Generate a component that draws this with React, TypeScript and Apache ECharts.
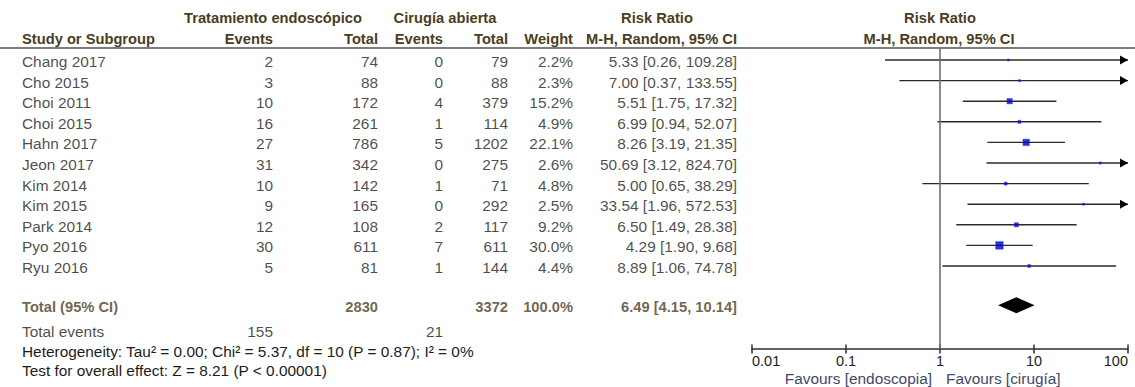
import React, { useEffect, useRef } from "react";
import * as echarts from "echarts";

// Study-level data
const studies = ["Chang 2017", "Cho 2015", "Choi 2011", "Choi 2015", "Hahn 2017", "Jeon 2017", "Kim 2014", "Kim 2015", "Park 2014", "Pyo 2016", "Ryu 2016"];
const endoEvents = [2, 3, 10, 16, 27, 31, 10, 9, 12, 30, 5];
const endoTotal = [74, 88, 172, 261, 786, 342, 142, 165, 108, 611, 81];
const openEvents = [0, 0, 4, 1, 5, 0, 1, 0, 2, 7, 1];
const openTotal = [79, 88, 379, 114, 1202, 275, 71, 292, 117, 611, 144];
const weights = [2.2, 2.3, 15.2, 4.9, 22.1, 2.6, 4.8, 2.5, 9.2, 30.0, 4.4];
const riskRatio = [5.33, 7.0, 5.51, 6.99, 8.26, 50.69, 5.0, 33.54, 6.5, 4.29, 8.89];
const ciLow = [0.26, 0.37, 1.75, 0.94, 3.19, 3.12, 0.65, 1.96, 1.49, 1.9, 1.06];
const ciHigh = [109.28, 133.55, 17.32, 52.07, 21.35, 824.7, 38.29, 572.53, 28.38, 9.68, 74.78];

// Pooled result
const pooledRR = 6.49;
const pooledLow = 4.15;
const pooledHigh = 10.14;
const endoTotalAll = 2830;
const openTotalAll = 3372;
const endoEventsAll = 155;
const openEventsAll = 21;
const totalWeight = 100.0;

// Axis ticks of the forest plot
const axisTicks = [0.01, 0.1, 1, 10, 100];

// Layout
const W = 1135;
const H = 387;
const ROW0 = 60;
const ROW = 20.6;
const TOTAL_ROW = 11.9;
const EVENTS_ROW = 13.1;
const PLOT_LEFT = 752;
const PLOT_RIGHT = 1128;
const PLOT_TOP = 48;
const PLOT_BOTTOM = 349;

const FONT = '"Liberation Sans", Arial, sans-serif';
const FS = 15.4;
const FS_BOLD = 14.7;
const TXT = "#1c1c1c";
const HEAD = "#4a3d22";

const fmt2 = (v: number) => v.toFixed(2);
const ciText = (r: number, lo: number, hi: number) => `${fmt2(r)} [${fmt2(lo)}, ${fmt2(hi)}]`;

function textColumn(x: number, rows: number[], texts: string[], align: "left" | "right", bold = false) {
  return {
    type: "scatter",
    xAxisIndex: 2,
    yAxisIndex: 1,
    silent: true,
    symbolSize: 0,
    z: 5,
    data: rows.map((r) => [x, r]),
    label: {
      show: true,
      position: align === "right" ? "left" : "right",
      distance: 0,
      offset: [0, 1.5],
      formatter: (p: any) => texts[p.dataIndex],
      fontFamily: FONT,
      fontSize: bold ? FS_BOLD : FS,
      fontWeight: bold ? "bold" : "normal",
      color: bold ? HEAD : TXT,
    },
  };
}

export default function App() {
  const ref = useRef<HTMLDivElement>(null);

  useEffect(() => {
    document.body.style.margin = "0";
    const chart = echarts.init(ref.current!, null, { renderer: "svg" });
    const idx = studies.map((_, i) => i);
    const axMin = axisTicks[0];
    const axMax = axisTicks[axisTicks.length - 1];

    const headText = (text: string, x: number, y: number, align: string, bold = true) => ({
      type: "text",
      x,
      y,
      silent: true,
      style: {
        text,
        align,
        verticalAlign: "middle",
        font: `${bold ? "bold " : ""}${bold ? FS_BOLD : FS}px ${FONT}`,
        fill: bold ? HEAD : TXT,
      },
    });

    const option: any = {
      animation: false,
      backgroundColor: "#fff",
      grid: [
        { left: PLOT_LEFT, top: PLOT_TOP, width: PLOT_RIGHT - PLOT_LEFT, height: PLOT_BOTTOM - PLOT_TOP },
        { left: 0, top: 0, width: W, height: H },
      ],
      xAxis: [
        {
          type: "log",
          logBase: 10,
          min: axMin,
          max: axMax,
          gridIndex: 0,
          position: "bottom",
          axisLine: { show: true, onZero: false, lineStyle: { color: "#2e2e2e", width: 1.5 } },
          axisTick: { show: true, length: 4.5, lineStyle: { color: "#2e2e2e", width: 1.5 } },
          minorTick: { show: false },
          splitLine: { show: false },
          axisLabel: {
            show: true,
            margin: 4,
            fontFamily: FONT,
            fontSize: 14.5,
            color: TXT,
            alignMinLabel: "left",
            alignMaxLabel: "right",
            formatter: (v: number) => String(v),
          },
        },
        {
          type: "log",
          logBase: 10,
          min: axMin,
          max: axMax,
          gridIndex: 0,
          position: "bottom",
          axisLine: { show: false, onZero: false },
          axisTick: { show: true, inside: true, length: 4.5, lineStyle: { color: "#2e2e2e", width: 1.5 } },
          splitLine: { show: false },
          axisLabel: { show: false },
        },
        { type: "value", gridIndex: 1, min: 0, max: W, show: false },
      ],
      yAxis: [
        {
          type: "value",
          gridIndex: 0,
          inverse: true,
          min: (PLOT_TOP - ROW0) / ROW,
          max: (PLOT_BOTTOM - ROW0) / ROW,
          show: false,
        },
        {
          type: "value",
          gridIndex: 1,
          inverse: true,
          min: -ROW0 / ROW,
          max: (H - ROW0) / ROW,
          show: false,
        },
      ],
      graphic: [
        headText("Tratamiento endoscópico", 273, 18, "center"),
        headText("Cirugía abierta", 445, 18, "center"),
        headText("Risk Ratio", 657, 18, "center"),
        headText("Risk Ratio", 940, 18, "center"),
        headText("Study or Subgroup", 22, 39, "left"),
        headText("Events", 273, 39, "right"),
        headText("Total", 378, 39, "right"),
        headText("Events", 443, 39, "right"),
        headText("Total", 508, 39, "right"),
        headText("Weight", 573, 39, "right"),
        headText("M-H, Random, 95% CI", 737, 39, "right"),
        headText("M-H, Random, 95% CI", 939, 39, "center"),
        {
          type: "line",
          silent: true,
          shape: { x1: 0, y1: 48, x2: W, y2: 48 },
          style: { stroke: "#505050", lineWidth: 1.5 },
        },
        headText("Heterogeneity: Tau\u00b2 = 0.00; Chi\u00b2 = 5.37, df = 10 (P = 0.87); I\u00b2 = 0%", 22, 351, "left", false),
        headText("Test for overall effect: Z = 8.21 (P < 0.00001)", 22, 370.5, "left", false),
        {
          type: "text",
          x: 932,
          y: 378,
          silent: true,
          style: { text: "Favours [endoscopia]", align: "right", verticalAlign: "middle", font: `${FS}px ${FONT}`, fill: "#3f4868" },
        },
        {
          type: "text",
          x: 946,
          y: 378,
          silent: true,
          style: { text: "Favours [cirug\u00eda]", align: "left", verticalAlign: "middle", font: `${FS}px ${FONT}`, fill: "#3f4868" },
        },
      ],
      series: [
        // Confidence interval whiskers, with arrows where they run past the axis
        {
          type: "custom",
          xAxisIndex: 0,
          yAxisIndex: 0,
          silent: true,
          clip: false,
          z: 2,
          data: idx.map((i) => [ciLow[i], ciHigh[i], i]),
          encode: { x: [0, 1], y: 2 },
          renderItem: (_params: any, api: any) => {
            const lowRaw = api.value(0);
            const highRaw = api.value(1);
            const row = api.value(2);
            const p0 = api.coord([Math.max(lowRaw, axMin), row]);
            const p1 = api.coord([Math.min(highRaw, axMax), row]);
            const children: any[] = [
              {
                type: "line",
                shape: { x1: p0[0], y1: p0[1], x2: p1[0], y2: p1[1] },
                style: { stroke: "#2a2a2a", lineWidth: 1.4 },
              },
            ];
            if (highRaw > axMax) {
              children.push({
                type: "polygon",
                shape: { points: [[p1[0] - 8, p1[1] - 4.5], [p1[0], p1[1]], [p1[0] - 8, p1[1] + 4.5]] },
                style: { fill: "#000" },
              });
            }
            if (lowRaw < axMin) {
              children.push({
                type: "polygon",
                shape: { points: [[p0[0] + 8, p0[1] - 4.5], [p0[0], p0[1]], [p0[0] + 8, p0[1] + 4.5]] },
                style: { fill: "#000" },
              });
            }
            return { type: "group", children };
          },
          markLine: {
            silent: true,
            symbol: "none",
            label: { show: false },
            lineStyle: { color: "#6e6e6e", width: 1.6, type: "solid" },
            data: [{ xAxis: 1 }],
          },
        },
        // Point estimates, square area proportional to weight
        {
          type: "scatter",
          xAxisIndex: 0,
          yAxisIndex: 0,
          silent: true,
          z: 3,
          symbol: "rect",
          data: idx.map((i) => [riskRatio[i], i, weights[i]]),
          symbolSize: (v: number[]) => Math.max(2, 1.4 * Math.sqrt(v[2])),
          itemStyle: { color: "#0000c8", borderColor: "#3a3ae0", borderWidth: 0.5 },
        },
        // Pooled estimate diamond
        {
          type: "custom",
          xAxisIndex: 0,
          yAxisIndex: 0,
          silent: true,
          clip: false,
          z: 3,
          data: [[pooledLow, pooledHigh, pooledRR, TOTAL_ROW]],
          encode: { x: [0, 1, 2], y: 3 },
          renderItem: (_params: any, api: any) => {
            const row = api.value(3);
            const a = api.coord([api.value(0), row]);
            const b = api.coord([api.value(1), row]);
            const c = api.coord([api.value(2), row]);
            return {
              type: "polygon",
              shape: { points: [[a[0], a[1]], [c[0], c[1] - 8], [b[0], b[1]], [c[0], c[1] + 8]] },
              style: { fill: "#000" },
            };
          },
        },
        // Table columns
        textColumn(22, idx, studies, "left"),
        textColumn(273, idx, endoEvents.map(String), "right"),
        textColumn(378, idx, endoTotal.map(String), "right"),
        textColumn(443, idx, openEvents.map(String), "right"),
        textColumn(508, idx, openTotal.map(String), "right"),
        textColumn(573, idx, weights.map((w) => `${w.toFixed(1)}%`), "right"),
        textColumn(737, idx, idx.map((i) => ciText(riskRatio[i], ciLow[i], ciHigh[i])), "right"),
        // Total row
        textColumn(22, [TOTAL_ROW], ["Total (95% CI)"], "left", true),
        textColumn(378, [TOTAL_ROW], [String(endoTotalAll)], "right", true),
        textColumn(508, [TOTAL_ROW], [String(openTotalAll)], "right", true),
        textColumn(573, [TOTAL_ROW], [`${totalWeight.toFixed(1)}%`], "right", true),
        textColumn(737, [TOTAL_ROW], [ciText(pooledRR, pooledLow, pooledHigh)], "right", true),
        // Total events row
        textColumn(22, [EVENTS_ROW], ["Total events"], "left"),
        textColumn(273, [EVENTS_ROW], [String(endoEventsAll)], "right"),
        textColumn(443, [EVENTS_ROW], [String(openEventsAll)], "right"),
      ],
    };

    chart.setOption(option);
    return () => chart.dispose();
  }, []);

  return <div ref={ref} style={{ width: W, height: H }} />;
}
